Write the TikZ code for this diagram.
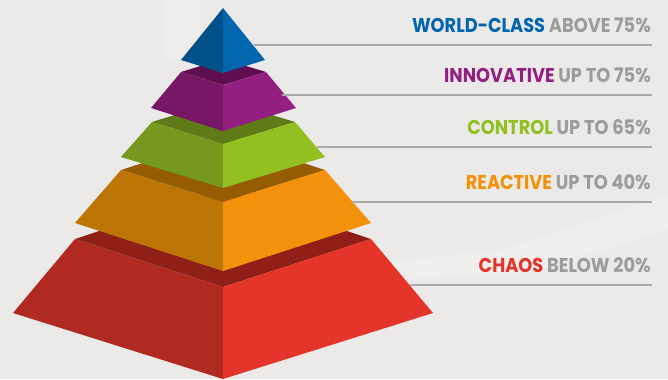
\documentclass[tikz,border=0pt]{standalone}
\usepackage{fontspec}
\setmainfont{Poppins}
\newfontfamily\tagfont{Poppins}[FakeStretch=0.89]
\usetikzlibrary{calc,positioning}
\definecolor{bg}{HTML}{ECEAE8}
\definecolor{haze}{HTML}{F6F6F5}
\definecolor{rule}{HTML}{A9A9A9}
\definecolor{txtgray}{HTML}{9C9C9C}
\definecolor{blueL}{HTML}{02508A}
\definecolor{blueR}{HTML}{0166AE}
\definecolor{purpT}{HTML}{5F0F50}
\definecolor{purpL}{HTML}{771765}
\definecolor{purpR}{HTML}{931F80}
\definecolor{greenT}{HTML}{5F7A16}
\definecolor{greenL}{HTML}{74991E}
\definecolor{greenR}{HTML}{93C021}
\definecolor{orngT}{HTML}{965C01}
\definecolor{orngL}{HTML}{BC7504}
\definecolor{orngR}{HTML}{F3920A}
\definecolor{redT}{HTML}{8E2017}
\definecolor{redL}{HTML}{B12A21}
\definecolor{redR}{HTML}{E5352B}
\newcommand{\lineend}{652}
\newcommand{\gap}{13}

\begin{document}
\begin{tikzpicture}[x=0.75pt,y=-0.75pt]
  \tikzstyle{leader}=[draw=rule, line width=0.9pt]
  \tikzstyle{tag}=[anchor=base east, inner sep=0pt, text=txtgray, font=\tagfont\bfseries\fontsize{15}{15}\selectfont]
  \useasboundingbox (0,0) rectangle (668,379);
  \fill[bg] (0,0) rectangle (668,379);
  \fill[haze, opacity=0.3] (165,0) rectangle (200,60);
  \fill[haze, opacity=0.35] (380,262) -- (500,250) -- (668,195) -- (668,230) -- (520,275) -- (380,280) -- cycle;
  % chaos
  \fill[redT] (75,239) -- (223,190) -- (371,239) -- (223,287) -- cycle;
  \fill[redL] (75,239) -- (223,287) -- (223,379) -- (13,313) -- cycle;
  \fill[redR] (371,239) -- (223,287) -- (223,379) -- (433,313) -- cycle;
  % reactive
  \fill[orngT] (121,170) -- (223,137) -- (325,170) -- (223,202) -- cycle;
  \fill[orngL] (121,170) -- (223,202) -- (223,271) -- (75,223) -- cycle;
  \fill[orngR] (325,170) -- (223,202) -- (223,271) -- (371,223) -- cycle;
  % control
  \fill[greenT] (152,122) -- (223,100) -- (295,122) -- (223,144) -- cycle;
  \fill[greenL] (152,122) -- (223,144) -- (223,188) -- (121,157) -- cycle;
  \fill[greenR] (295,122) -- (223,144) -- (223,188) -- (325,157) -- cycle;
  % innovative
  \fill[purpT] (181,72) -- (223,59) -- (266,72) -- (223,85) -- cycle;
  \fill[purpL] (181,72) -- (223,85) -- (223,131) -- (151,108) -- cycle;
  \fill[purpR] (266,72) -- (223,85) -- (223,131) -- (296,108) -- cycle;
  % world-class
  \fill[blueL] (223,8) -- (181,60) -- (223,73) -- cycle;
  \fill[blueR] (223,8) -- (265,60) -- (223,73) -- cycle;
  % leader lines and labels
  \coordinate (wcs) at (254,45);  \coordinate (wce) at (\lineend,45);
  \coordinate (ins) at (282,95);  \coordinate (ine) at (\lineend,95);
  \coordinate (cos) at (317,147); \coordinate (coe) at (\lineend,147);
  \coordinate (res) at (352,202); \coordinate (ree) at (\lineend,202);
  \coordinate (chs) at (410,285); \coordinate (che) at (\lineend,285);
  \draw[leader] (wcs) -- (wce);
  \draw[leader] (ins) -- (ine);
  \draw[leader] (cos) -- (coe);
  \draw[leader] (res) -- (ree);
  \draw[leader] (chs) -- (che);
  \node[tag] (worldclass) at ($(wce)+(-1,-\gap)$) {\color{blueR}WORLD-CLASS \color{txtgray}ABOVE 75\%};
  \node[tag] (innovative) at ($(ine)+(-1,-\gap)$) {\color{purpR}INNOVATIVE \color{txtgray}UP TO 75\%};
  \node[tag] (control) at ($(coe)+(-1,-\gap)$) {\color{greenR}CONTROL \color{txtgray}UP TO 65\%};
  \node[tag] (reactive) at ($(ree)+(-1,-\gap)$) {\color{orngR}REACTIVE \color{txtgray}UP TO 40\%};
  \node[tag] (chaos) at ($(che)+(-1,-\gap)$) {\color{redR}CHAOS \color{txtgray}BELOW 20\%};
\end{tikzpicture}
\end{document}
